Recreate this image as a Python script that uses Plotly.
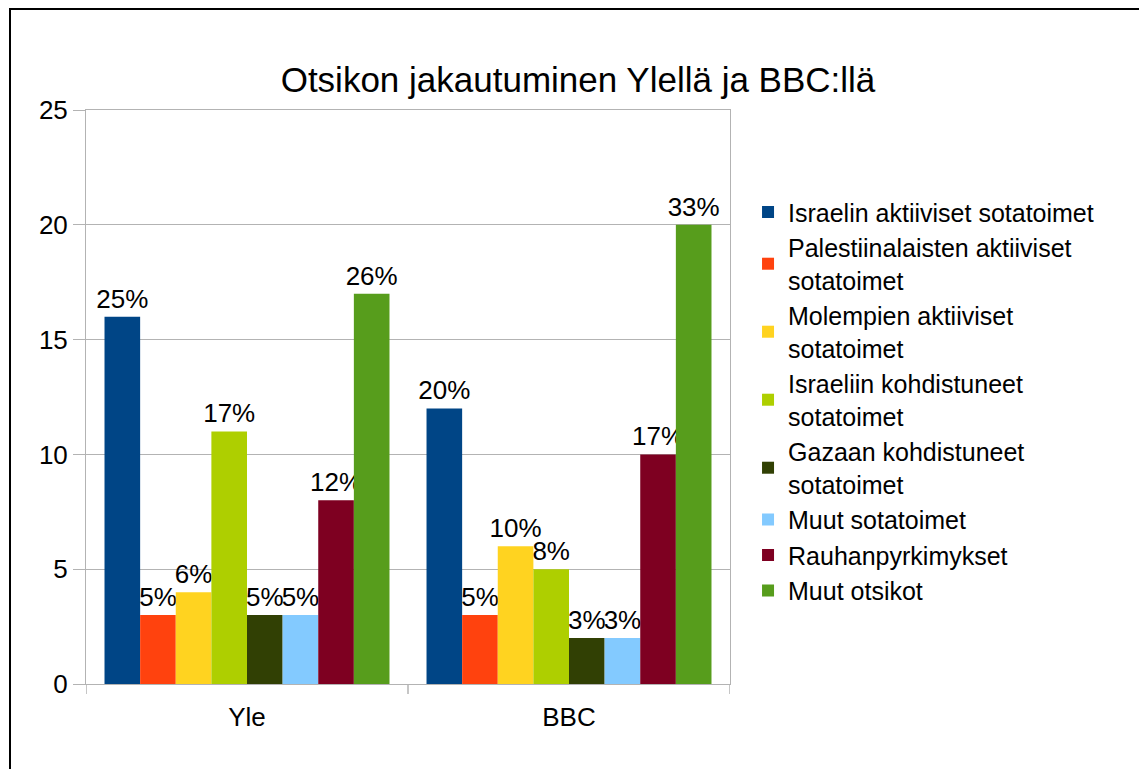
import plotly.graph_objects as go

channels = ["Yle", "BBC"]
series = [
    "Israelin aktiiviset sotatoimet",
    "Palestiinalaisten aktiiviset<br>sotatoimet",
    "Molempien aktiiviset<br>sotatoimet",
    "Israeliin kohdistuneet<br>sotatoimet",
    "Gazaan kohdistuneet<br>sotatoimet",
    "Muut sotatoimet",
    "Rauhanpyrkimykset",
    "Muut otsikot",
]
yle_counts = [16, 3, 4, 11, 3, 3, 8, 17]
bbc_counts = [12, 3, 6, 5, 2, 2, 10, 20]
yle_pct = ["25%", "5%", "6%", "17%", "5%", "5%", "12%", "26%"]
bbc_pct = ["20%", "5%", "10%", "8%", "3%", "3%", "17%", "33%"]
colors = ["#004586", "#ff420e", "#ffd320", "#aecf00",
          "#314004", "#83caff", "#7e0021", "#579d1c"]

font = "Liberation Sans, Arial, sans-serif"

# the page body adds 8px, so plot area 86..730 x 110..684 on screen -> 78..722 x 102..676
L, T, W, H = 78, 102, 644, 574

fig = go.Figure()
for i, name in enumerate(series):
    fig.add_trace(go.Bar(
        x=channels, y=[yle_counts[i], bbc_counts[i]],
        text=[yle_pct[i], bbc_pct[i]], name=name,
        marker=dict(color=colors[i], line=dict(width=0)),
        textposition="outside", cliponaxis=False, constraintext="none",
        textfont=dict(size=26, color="black", family=font),
    ))

fig.update_layout(
    barmode="group", bargap=0.115, bargroupgap=0,
    width=1147, height=769,
    margin=dict(l=L, r=1147 - L - W, t=T, b=769 - T - H),
    paper_bgcolor="white", plot_bgcolor="white",
    font=dict(family=font, size=26, color="black"),
    title=dict(text="Otsikon jakautuminen Ylellä ja BBC:llä", x=(578 - 8) / 1147,
               xanchor="center", yref="container", y=1 - 72 / 769, yanchor="middle",
               font=dict(size=35)),
    legend=dict(x=1.028, xanchor="left", y=0.862, yanchor="top",
                font=dict(size=25), tracegroupgap=2, itemwidth=30),
    showlegend=True,
)
fig.update_yaxes(range=[0, 25], dtick=5, showgrid=True, gridcolor="#b3b3b3",
                 showline=True, linecolor="#b3b3b3", mirror=True,
                 ticks="outside", ticklen=12, tickcolor="#b3b3b3",
                 zeroline=False, tickfont=dict(size=26))
fig.update_xaxes(showline=True, linecolor="#b3b3b3", mirror=True,
                 ticks="", tickfont=dict(size=26), range=[-0.5, 1.5],
                 ticklabelstandoff=10)

# category boundary ticks below the axis
for xb in [-0.5, 0.5, 1.5]:
    fig.add_shape(type="line", xref="x", yref="paper", x0=xb, x1=xb, y0=0, y1=-10 / H,
                  line=dict(color="#b3b3b3", width=1.5))

# outer frame
fig.add_shape(type="rect", xref="paper", yref="paper",
              x0=(2 - L) / W, x1=(1137 - L) / W,
              y0=-0.2, y1=(T + H - 1) / H,
              line=dict(color="black", width=2), fillcolor="rgba(0,0,0,0)")

fig.write_html("out.html")
